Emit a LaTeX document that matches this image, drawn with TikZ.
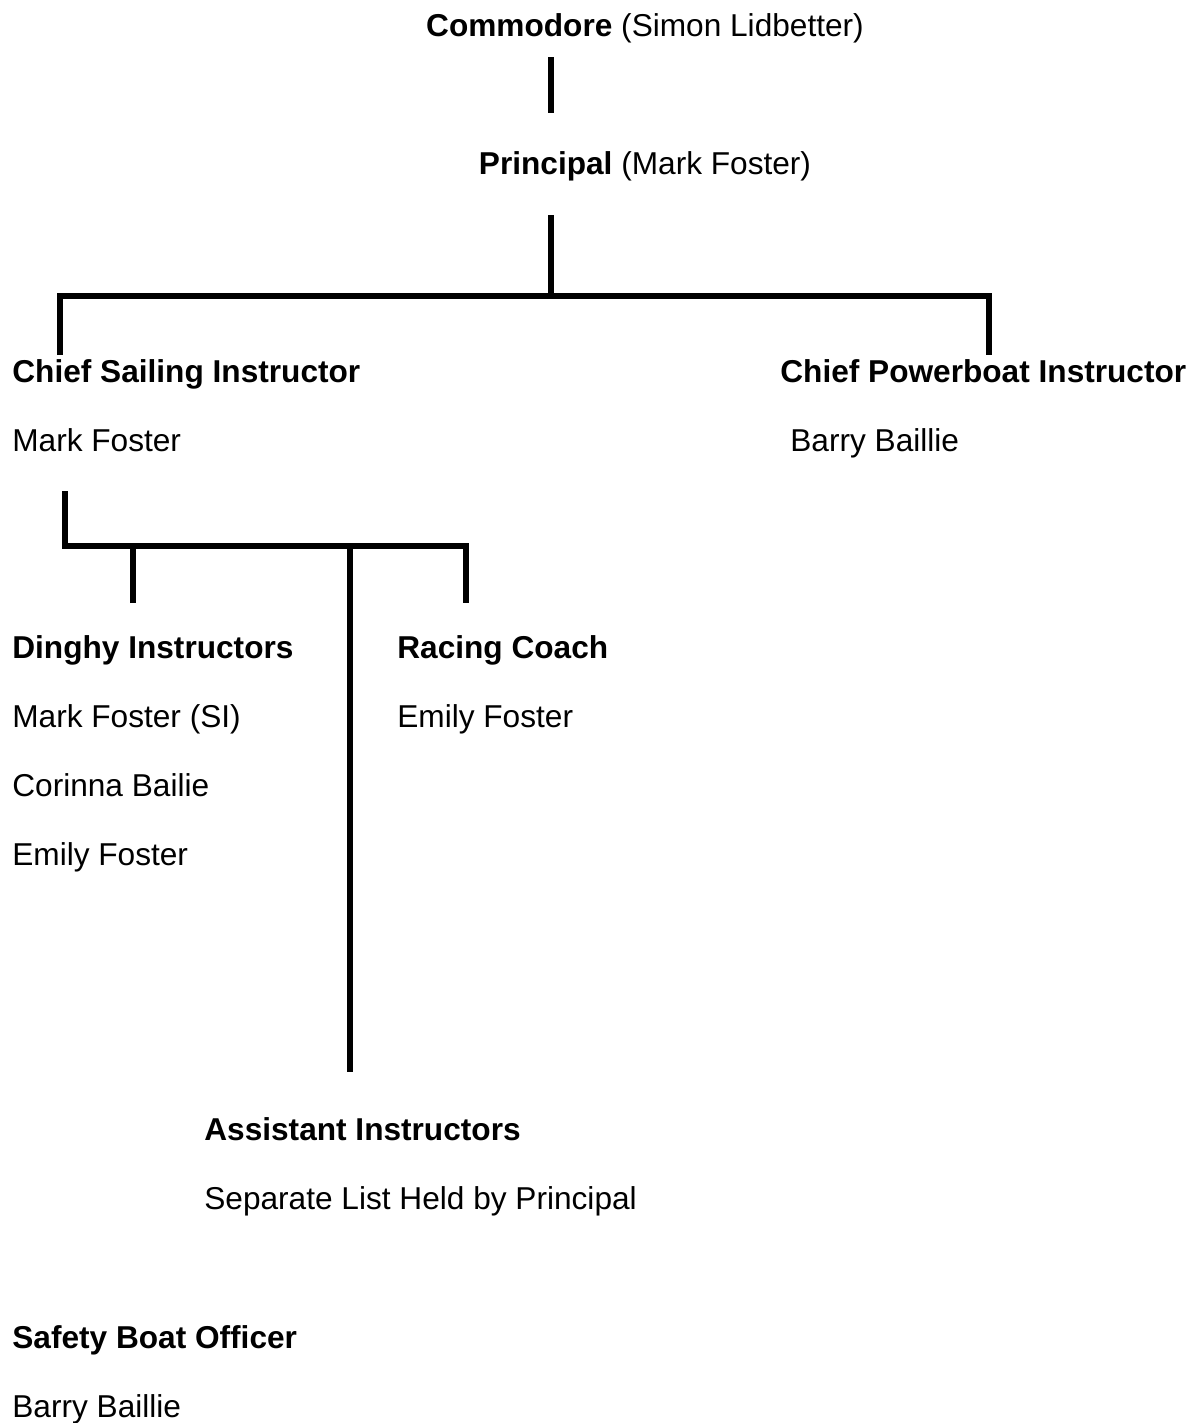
\documentclass[tikz,border=0pt]{standalone}
\usepackage{fontspec}
\setmainfont{Liberation Sans}
\usetikzlibrary{calc, positioning}

\begin{document}
\begin{tikzpicture}[x=0.02cm, y=-0.02cm,
    txt/.style={inner sep=0pt, anchor=base west, font=\fontsize{18}{22}\selectfont},
    ttl/.style={txt, font=\fontsize{18}{22}\selectfont\bfseries},
    bar/.style={line width=3.1pt}]
		\useasboundingbox (0,0) rectangle (1200,1423);
		\node (commodore) [txt, anchor=base] at (645,36) {\textbf{Commodore} (Simon Lidbetter)};
		\node (principal) [txt, anchor=base] at (645,174) {\textbf{Principal} (Mark Foster)};
		\node (csi) [ttl] at (12,382) {Chief Sailing Instructor};
		\node (csi name) [txt] at ($(csi.base west)+(0,69)$) {Mark Foster};
		\node (cpi) [ttl] at (780,382) {Chief Powerboat Instructor};
		\node (cpi name) [txt] at ($(cpi.base west)+(10,69)$) {Barry Baillie};
		\node (dinghy) [ttl] at (12,658) {Dinghy Instructors};
		\node (dinghy1) [txt] at ($(dinghy.base west)+(0,69)$) {Mark Foster (SI)};
		\node (dinghy2) [txt] at ($(dinghy1.base west)+(0,69)$) {Corinna Bailie};
		\node (dinghy3) [txt] at ($(dinghy2.base west)+(0,69)$) {Emily Foster};
		\node (racing) [ttl] at (397,658) {Racing Coach};
		\node (racing1) [txt] at ($(racing.base west)+(0,69)$) {Emily Foster};
		\node (assist) [ttl] at (204,1140) {Assistant Instructors};
		\node (assist1) [txt] at ($(assist.base west)+(0,69)$) {Separate List Held by Principal};
		\node (safety) [ttl] at (12,1348) {Safety Boat Officer};
		\node (safety1) [txt] at ($(safety.base west)+(0,69)$) {Barry Baillie};
		\coordinate (com foot) at (551,57);
		\coordinate (pri head) at (551,113);
		\coordinate (pri foot) at (551,215);
		\coordinate (hub1) at (551,296);
		\coordinate (csi head) at (60,355);
		\coordinate (cpi head) at (989,355);
		\coordinate (csi foot) at (65,491);
		\coordinate (hub2) at (350,546);
		\coordinate (dinghy head) at (133,603);
		\coordinate (racing head) at (466,603);
		\coordinate (assist head) at (350,1072);
		\draw[bar] (com foot) -- (pri head);
		\draw[bar] (pri foot) -- (hub1);
		\draw[bar] (csi head) |- (hub1) -| (cpi head);
		\draw[bar] (csi foot) |- (hub2) -| (racing head);
		\draw[bar] (dinghy head) |- (hub2);
		\draw[bar] (hub2) -- (assist head);
\end{tikzpicture}
\end{document}
